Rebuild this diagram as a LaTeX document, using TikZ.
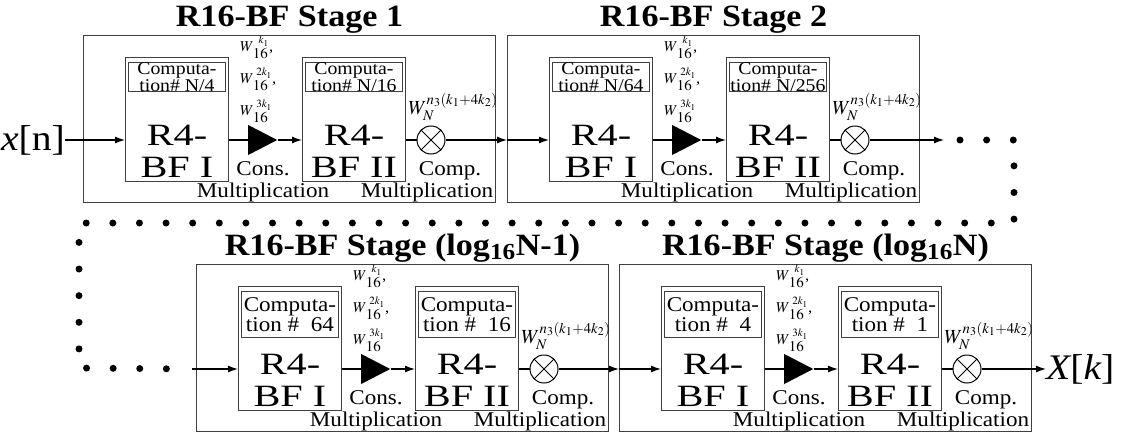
\documentclass[tikz,border=0pt]{standalone}
\usepackage{mathptmx}
\usepackage{fontspec}
\setmainfont[FakeStretch=1.1]{Liberation Serif}
\newfontfamily\widefont[FakeStretch=1.3]{Liberation Serif}
\newfontfamily\titlefont[FakeStretch=1.1]{Liberation Serif}
\usepackage{tikz}
\usetikzlibrary{positioning,arrows.meta,shapes.geometric,calc}
\tikzset{
  stagebox/.style={
    draw=black!75, line width=1pt, inner sep=0pt,
    minimum width=412pt, minimum height=167pt, anchor=north west
  },
  stagetitle/.style={
    font=\titlefont\bfseries\fontsize{31}{33}\selectfont,
    inner sep=0pt, anchor=base
  },
  bfbox/.style={
    draw=black!75, line width=1pt, inner sep=0pt,
    minimum width=103pt, minimum height=124pt, anchor=north west
  },
  bftext/.style={
    font=\widefont\fontsize{31}{32}\selectfont,
    align=center, inner sep=0pt, anchor=south
  },
  compbox/.style={
    draw=black!75, line width=0.9pt, inner sep=0pt,
    minimum width=97pt, align=center, anchor=north west
  },
  comptop/.style={compbox, minimum height=28pt, font=\fontsize{18}{12}\selectfont},
  compbot/.style={compbox, minimum height=46pt, font=\fontsize{21}{20}\selectfont},
  constmul/.style={
    isosceles triangle, isosceles triangle stretches, fill=black,
    minimum width=30pt, minimum height=29pt, inner sep=0pt, anchor=west
  },
  mult/.style={
    circle, draw, line width=1pt, minimum size=28pt, inner sep=0pt,
    path picture={
      \draw[line width=1pt] (path picture bounding box.center) ++(45:14pt) -- ++(225:28pt)
        (path picture bounding box.center) ++(135:14pt) -- ++(-45:28pt);
    }
  },
  twid/.style={font=\fontsize{15}{32}\selectfont, align=left, inner sep=0pt, anchor=north west},
  wn/.style={font=\fontsize{20}{22}\selectfont, inner sep=0pt, anchor=south},
  labeltext/.style={font=\fontsize{21}{22}\selectfont, inner sep=0pt, anchor=base},
  sigtext/.style={font=\fontsize{36}{40}\selectfont, inner sep=0pt},
  wire/.style={line width=1.3pt},
  arr/.style={wire, -{Latex[length=10pt,width=7pt]}},
  dotline/.style={line width=7pt, line cap=round, dash pattern=on 0pt off 26.62pt}
}
\newcommand{\rstage}[7]{%
  \node[stagebox] (#1) at (#2,#3) {};
  \node[stagetitle] (#1-t) at ([yshift=9pt]#1.north) {#4};
  \coordinate (#1-in) at ([yshift=-105pt]#1.north west);
  \node[bfbox] (#1-a) at ([xshift=42pt,yshift=-22pt]#1.north west) {};
  \node[#5] (#1-ac) at ([xshift=3pt,yshift=-5pt]#1-a.north west) {#6};
  \node[bftext] (#1-at) at ([yshift=4pt]#1-a.south) {R4-\\BF I};
  \node[constmul] (#1-tri) at ([xshift=165pt]#1-in) {};
  \node[bfbox] (#1-b) at ([xshift=219pt,yshift=-22pt]#1.north west) {};
  \node[#5] (#1-bc) at ([xshift=3pt,yshift=-5pt]#1-b.north west) {#7};
  \node[bftext] (#1-bt) at ([yshift=4pt]#1-b.south) {R4-\\BF II};
  \node[mult] (#1-m) at ([xshift=348pt]#1-in) {};
  \node[twid] (#1-w) at ([xshift=157pt,yshift=-1pt]#1.north west)
    {$W_{\textstyle\,16}^{\;\;k_1}$,\\$W_{\textstyle\,16}^{\;2k_1}$,\\$W_{\textstyle\,16}^{\;3k_1}$};
  \node[wn] (#1-wn) at ([xshift=370pt,yshift=-86pt]#1.north west) {$W_N^{n_3(k_1+4k_2)}$};
  \node[labeltext] (#1-cons) at ([xshift=180pt,yshift=-140pt]#1.north west) {Cons.};
  \node[labeltext] (#1-comp) at ([xshift=367pt,yshift=-140pt]#1.north west) {Comp.};
  \node[labeltext] (#1-mul1) at ([xshift=180pt,yshift=-162pt]#1.north west) {Multiplication};
  \node[labeltext] (#1-mul2) at ([xshift=344pt,yshift=-162pt]#1.north west) {Multiplication};
  \draw[wire] (#1-a.east |- #1-in) -- (#1-tri.west);
  \draw[arr] (#1-tri.east) -- (#1-b.west |- #1-in);
  \draw[wire] (#1-b.east |- #1-in) -- (#1-m.west);
}
\begin{document}
\begin{tikzpicture}[x=1pt,y=-1pt]
  \useasboundingbox (0,0) rectangle (1121,439);

  \rstage{s1}{83}{35}{R16-BF Stage 1}{comptop}{Computa-\\tion\# N/4}{Computa-\\tion\# N/16}
  \rstage{s2}{507}{35}{R16-BF Stage 2}{comptop}{Computa-\\tion\# N/64}{Computa-\\tion\# N/256}
  \rstage{s3}{196}{264}{R16-BF Stage (log\textsubscript{16}N-1)}{compbot}{Computa-\\tion \#~~64}{Computa-\\tion \#~~16}
  \rstage{s4}{619}{264}{R16-BF Stage (log\textsubscript{16}N)}{compbot}{Computa-\\tion \#~~4}{Computa-\\tion \#~~1}

  \node[sigtext] (xn) at (33,140) {\itshape x\upshape[n]};
  \node[sigtext, anchor=west] (xk) at ([xshift=14pt]s4.east |- s4-in) {\itshape X\upshape[\itshape k\upshape]};

  \coordinate (s2out) at ([xshift=24pt]s2.east |- s2-in);
  \coordinate (d0) at ([xshift=16pt]s2out);
  \coordinate (d1) at (1014,140);
  \coordinate (d2) at (1014,223);
  \coordinate (d3) at (79,223);
  \coordinate (d4) at (79,368);
  \coordinate (s3src) at ([xshift=-4pt]s3-in);

  \draw[arr] (xn) -- (s1-a.west |- s1-in);
  \draw[arr] (s1-m) -- (s1-m -| s2.west);
  \draw[arr] (s1-m -| s2.west) -- (s2-a.west |- s2-in);
  \draw[arr] (s2-m) -- (s2out);
  \draw[dotline] (d0) -- (d1) -- (d2) -- (d3) -- (d4) -- (s3src);
  \draw[arr] (s3src) -- (s3-a.west |- s3-in);
  \draw[arr] (s3-m) -- (s3-m -| s4.west);
  \draw[arr] (s3-m -| s4.west) -- (s4-a.west |- s4-in);
  \draw[arr] (s4-m) -- (xk);
\end{tikzpicture}
\end{document}
